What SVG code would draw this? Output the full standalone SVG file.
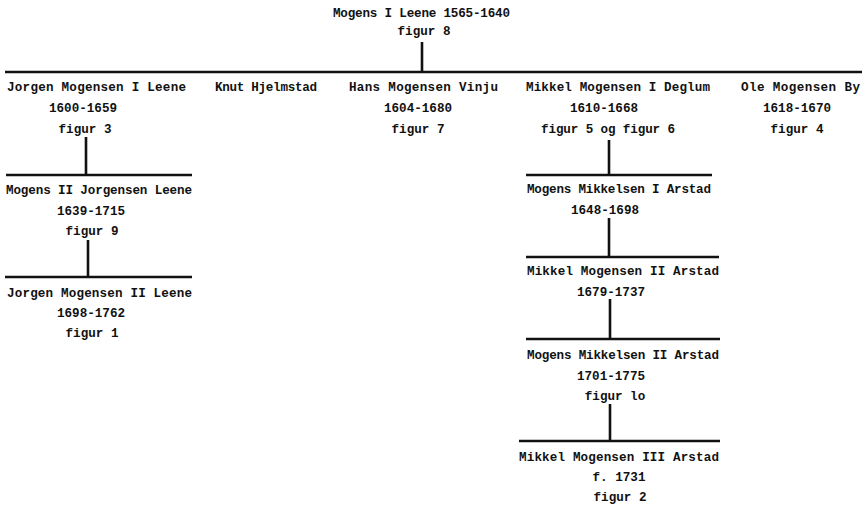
<svg xmlns="http://www.w3.org/2000/svg" width="867" height="506" viewBox="0 0 867 506">
<style>
text{font-family:"Liberation Mono","DejaVu Sans Mono",monospace;font-weight:bold;font-size:12.6px;fill:#111}
.c{text-anchor:middle}
.ln{stroke:#111;stroke-width:2.6;fill:none}
</style>
<rect width="867" height="506" fill="#fff"/>
<g id="connectors">
<line class="ln" x1="422" y1="42" x2="422" y2="72"/>
<line class="ln" x1="5" y1="72" x2="862" y2="72"/>
<line class="ln" x1="86" y1="137" x2="86" y2="175"/>
<line class="ln" x1="6" y1="175" x2="192" y2="175"/>
<line class="ln" x1="88" y1="240" x2="88" y2="277"/>
<line class="ln" x1="5" y1="277" x2="192" y2="277"/>
<line class="ln" x1="609" y1="140" x2="609" y2="175"/>
<line class="ln" x1="526" y1="175" x2="712" y2="175"/>
<line class="ln" x1="609" y1="218" x2="609" y2="257"/>
<line class="ln" x1="526" y1="257" x2="719" y2="257"/>
<line class="ln" x1="610" y1="299" x2="610" y2="339"/>
<line class="ln" x1="526" y1="339" x2="720" y2="339"/>
<line class="ln" x1="610" y1="404" x2="610" y2="441"/>
<line class="ln" x1="519" y1="441" x2="720" y2="441"/>
</g>
<g id="mogens-i">
<text x="333" y="17" textLength="177">Mogens I Leene 1565-1640</text>
<text x="424" y="35" class="c">figur 8</text>
</g>
<g id="jorgen-i">
<text x="7" y="91" textLength="179">Jorgen Mogensen I Leene</text>
<text x="83" y="112" class="c">1600-1659</text>
<text x="85" y="133" class="c">figur 3</text>
</g>
<g id="knut">
<text x="215" y="91" textLength="102">Knut Hjelmstad</text>
</g>
<g id="hans">
<text x="349" y="91" textLength="149">Hans Mogensen Vinju</text>
<text x="418" y="112" class="c">1604-1680</text>
<text x="418" y="133" class="c">figur 7</text>
</g>
<g id="mikkel-i">
<text x="526" y="91" textLength="184">Mikkel Mogensen I Deglum</text>
<text x="604" y="112" class="c">1610-1668</text>
<text x="608" y="133" class="c" textLength="134">figur 5 og figur 6</text>
</g>
<g id="ole">
<text x="741" y="91" textLength="119">Ole Mogensen By</text>
<text x="797" y="112" class="c">1618-1670</text>
<text x="797" y="133" class="c">figur 4</text>
</g>
<g id="mogens-ii">
<text x="6" y="194" textLength="186">Mogens II Jorgensen Leene</text>
<text x="91" y="215" class="c">1639-1715</text>
<text x="92" y="235" class="c">figur 9</text>
</g>
<g id="jorgen-ii">
<text x="7" y="297" textLength="185">Jorgen Mogensen II Leene</text>
<text x="91" y="317" class="c">1698-1762</text>
<text x="92" y="337" class="c">figur 1</text>
</g>
<g id="mogens-mikkelsen-i">
<text x="527" y="193" textLength="184">Mogens Mikkelsen I Arstad</text>
<text x="605" y="214" class="c">1648-1698</text>
</g>
<g id="mikkel-ii">
<text x="527" y="275" textLength="192">Mikkel Mogensen II Arstad</text>
<text x="611" y="296" class="c">1679-1737</text>
</g>
<g id="mogens-mikkelsen-ii">
<text x="527" y="359" textLength="192">Mogens Mikkelsen II Arstad</text>
<text x="611" y="380" class="c">1701-1775</text>
<text x="615" y="400" class="c">figur lo</text>
</g>
<g id="mikkel-iii">
<text x="519" y="461" textLength="200">Mikkel Mogensen III Arstad</text>
<text x="619" y="481" class="c">f. 1731</text>
<text x="620" y="501" class="c">figur 2</text>
</g>
</svg>
